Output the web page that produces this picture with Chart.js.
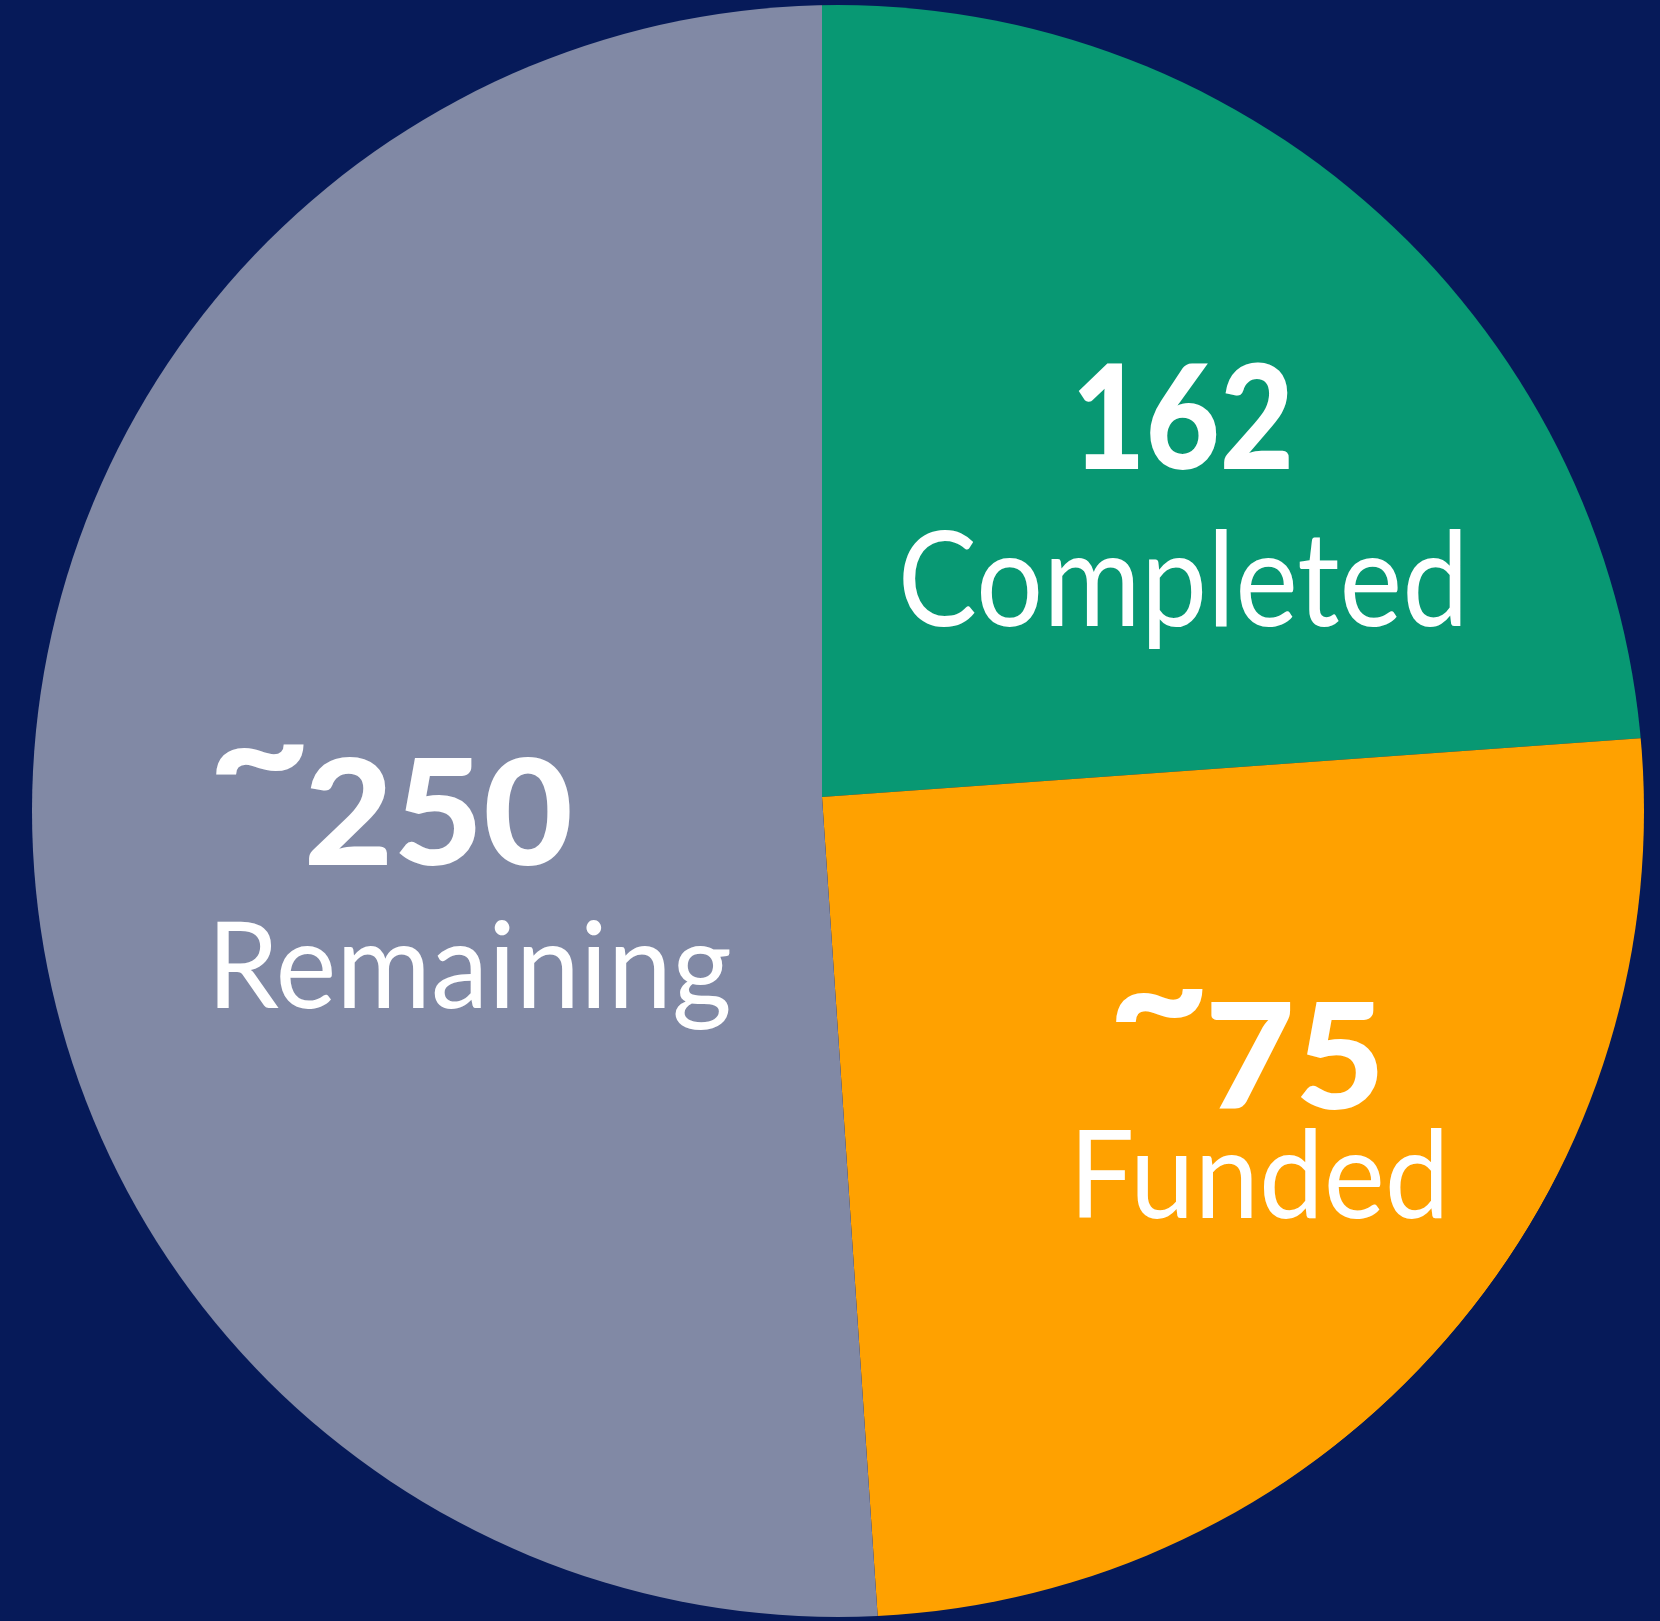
<!DOCTYPE html>
<html>
<head>
<meta charset="utf-8">
<title>Progress pie</title>
<script src="https://cdn.jsdelivr.net/npm/chart.js@4.4.1/dist/chart.umd.min.js"></script>
<style>
  html, body { margin: 0; padding: 0; background: #061a59; overflow: hidden; }
  canvas { display: block; }
</style>
</head>
<body>
<canvas id="pie" width="1660" height="1621"></canvas>
<script>
// slice shares as drawn (percent of the circle)
const categories = ["Completed", "Funded", "Remaining"];
const shares = [23.86, 25.06, 51.08];
// the counts printed on each slice
const countPrefix = ["", "~", "~"];
const countText = ["162", "75", "250"];
const sliceColors = ["#089873", "#ffa100", "#8189a5"];

// the slices meet a little off the middle of the disc, so the pie is drawn
// from that point with a bigger radius and clipped to the disc
const BASE_R = 827;
const DISC = { dx: 16, dy: 14, r: 806 };
// text boxes, px offsets from the slice vertex (radius 827): [left, top, width, height]
const LAYOUT = {
  tilde: [null, [293, 191, 88, 34], [-607, -53, 89, 31]],
  count: [[256, -435, 211, 108], [389, 204, 167, 109], [-513, -41, 261, 110]],
  name: [[81, -267, 558, 119], [257, 332, 363, 91], [-605, 124, 513, 109]]
};

function drawInBox(ctx, text, font, box, cx, cy, k) {
  ctx.save();
  ctx.font = font;
  ctx.textAlign = "left";
  ctx.textBaseline = "alphabetic";
  const m = ctx.measureText(text);
  const w = m.actualBoundingBoxLeft + m.actualBoundingBoxRight;
  const h = m.actualBoundingBoxAscent + m.actualBoundingBoxDescent;
  ctx.translate(cx + box[0] * k, cy + box[1] * k);
  ctx.scale(box[2] * k / w, box[3] * k / h);
  ctx.fillText(text, m.actualBoundingBoxLeft, m.actualBoundingBoxAscent);
  ctx.restore();
}

const discAndLabels = {
  id: "discAndLabels",
  beforeDatasetsDraw(chart) {
    const arc = chart.getDatasetMeta(0).data[0];
    const ctx = chart.ctx;
    const k = arc.outerRadius / BASE_R;
    ctx.save();
    ctx.beginPath();
    ctx.arc(arc.x + DISC.dx * k, arc.y + DISC.dy * k, DISC.r * k, 0, Math.PI * 2);
    ctx.clip();
  },
  afterDatasetsDraw(chart) {
    const ctx = chart.ctx;
    ctx.restore();
    const arc = chart.getDatasetMeta(0).data[0];
    const k = arc.outerRadius / BASE_R;
    ctx.fillStyle = "#ffffff";
    categories.forEach((name, i) => {
      if (countPrefix[i]) drawInBox(ctx, countPrefix[i], "900 150px Lato", LAYOUT.tilde[i], arc.x, arc.y, k);
      drawInBox(ctx, countText[i], "900 150px Lato", LAYOUT.count[i], arc.x, arc.y, k);
      drawInBox(ctx, name, "400 115px Lato", LAYOUT.name[i], arc.x, arc.y, k);
    });
  }
};

new Chart(document.getElementById("pie"), {
  type: "pie",
  data: {
    labels: categories,
    datasets: [{ data: shares, backgroundColor: sliceColors, borderWidth: 0, radius: BASE_R }]
  },
  options: {
    responsive: false,
    animation: false,
    layout: { padding: { left: 0, right: 16, top: 0, bottom: 27 } },
    plugins: { legend: { display: false }, tooltip: { enabled: false } }
  },
  plugins: [discAndLabels]
});
</script>
</body>
</html>
